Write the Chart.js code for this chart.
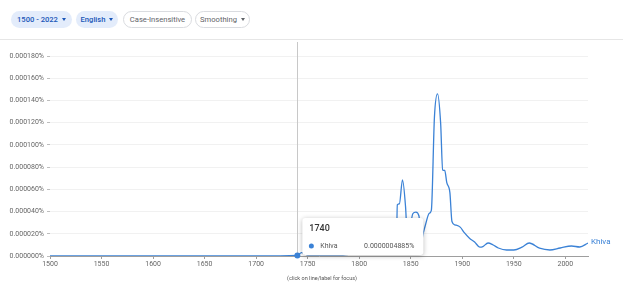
<!DOCTYPE html>
<html>
<head>
<meta charset="utf-8">
<script src="https://cdn.jsdelivr.net/npm/chart.js@4/dist/chart.umd.min.js"></script>
<style>
  html, body { margin: 0; padding: 0; background: #fff; }
  body { width: 623px; height: 299px; position: relative; overflow: hidden; font-family: Roboto, Arial, sans-serif; }
  #chart { position: absolute; left: 0; top: 0; }
  .chip { position: absolute; top: 11px; height: 17px; border-radius: 9px; font-size: 7.6px; line-height: 17px; box-sizing: border-box; text-align: center; white-space: nowrap; }
  .chip.on { background: #e3ecfb; color: #1a56b8; font-weight: 500; }
  .chip.off { background: #fff; border: 1px solid #dadce0; color: #5f6368; line-height: 15px; }
  .caret { display: inline-block; width: 0; height: 0; border-left: 2.5px solid transparent; border-right: 2.5px solid transparent; border-top: 3px solid currentColor; margin-left: 4px; vertical-align: 1px; }
  #sep { position: absolute; left: 0; right: 0; top: 39px; height: 1px; background: #e6e6e6; }
</style>
</head>
<body>
<div class="chip on" style="left:11px;width:61px;">1500 - 2022<span class="caret"></span></div>
<div class="chip on" style="left:76px;width:42px;">English<span class="caret"></span></div>
<div class="chip off" style="left:123px;width:69px;">Case-Insensitive</div>
<div class="chip off" style="left:195px;width:55px;">Smoothing<span class="caret"></span></div>
<div id="sep"></div>
<canvas id="chart" width="623" height="299"></canvas>
<script>
// Khiva frequency (percent of corpus)
const years = [1500, 1600, 1700, 1740, 1744, 1750, 1780, 1800, 1820, 1835, 1836,
  1837, 1839, 1842, 1845, 1847, 1852, 1855, 1858, 1860, 1862, 1864, 1868, 1870,
  1873, 1876, 1879, 1881, 1883, 1885, 1888, 1890, 1893, 1898, 1902, 1907, 1912,
  1917, 1920, 1925, 1930, 1935, 1943, 1950, 1958, 1965, 1975, 1985, 1995, 2006,
  2014, 2022];
const khiva = [0, 0, 0, 0.0000004885, 0.000003, 0.000001, 0.000001, 0.000002, 0.000002, 0.000002, 0.000003,
  0.000046, 0.000047, 0.0000685, 0.000044, 0.000012, 0.000038, 0.0000395, 0.000036, 0.000012, 0.00002,
  0.000027, 0.0000385, 0.000041, 0.000125, 0.000146, 0.00012, 0.0000775, 0.000077, 0.000066, 0.000057,
  0.000031, 0.000028, 0.000026, 0.000021, 0.000016, 0.0000126, 0.000008, 0.0000085, 0.0000117, 0.0000099,
  0.0000072, 0.0000054, 0.0000054, 0.000008, 0.0000117, 0.000007, 0.0000054, 0.0000072, 0.000009,
  0.0000081, 0.0000117];
const yTicks = [0, 0.00002, 0.00004, 0.00006, 0.00008, 0.0001, 0.00012, 0.00014, 0.00016, 0.00018];
const xTicks = [1500, 1550, 1600, 1650, 1700, 1750, 1800, 1850, 1900, 1950, 2000];
const focusYear = 1740;
const seriesName = "Khiva";
const lineColor = "#3b82d6";

const overlay = {
  id: "overlay",
  beforeDatasetsDraw(chart) {
    const { ctx, scales } = chart;
    const x = scales.x.getPixelForValue(focusYear);
    ctx.save();
    ctx.strokeStyle = "#c8c8c8";
    ctx.lineWidth = 1;
    ctx.beginPath();
    ctx.moveTo(Math.round(x) + 0.5, 42);
    ctx.lineTo(Math.round(x) + 0.5, chart.chartArea.bottom);
    ctx.stroke();
    ctx.restore();
  },
  afterDraw(chart) {
    const { ctx, scales, chartArea } = chart;
    const i = years.indexOf(focusYear);
    const px = scales.x.getPixelForValue(focusYear);
    const py = scales.y.getPixelForValue(khiva[i]);
    ctx.save();
    // focus dot
    ctx.fillStyle = lineColor;
    ctx.beginPath();
    ctx.arc(px, py, 3, 0, Math.PI * 2);
    ctx.fill();

    // series label at end of line
    const last = khiva.length - 1;
    ctx.font = "8px Roboto";
    ctx.textBaseline = "middle";
    ctx.textAlign = "left";
    ctx.fillStyle = lineColor;
    ctx.fillText(seriesName, scales.x.getPixelForValue(years[last]) + 3, scales.y.getPixelForValue(khiva[last]) - 1);

    // tooltip
    const bx = px + 5, by = 218, bw = 121, bh = 37;
    ctx.shadowColor = "rgba(0,0,0,0.28)";
    ctx.shadowBlur = 5;
    ctx.shadowOffsetY = 1;
    ctx.fillStyle = "#fff";
    ctx.beginPath();
    ctx.roundRect(bx, by, bw, bh, 3);
    ctx.fill();
    ctx.shadowColor = "transparent";
    ctx.fillStyle = "#333";
    ctx.font = "500 9px Roboto";
    ctx.fillText(String(focusYear), bx + 7, by + 11);
    ctx.fillStyle = lineColor;
    ctx.beginPath();
    ctx.arc(bx + 9, by + 28, 2.5, 0, Math.PI * 2);
    ctx.fill();
    ctx.fillStyle = "#555";
    ctx.font = "7px Roboto";
    ctx.fillText(seriesName, bx + 18, by + 28);
    ctx.textAlign = "right";
    ctx.fillText(khiva[i].toFixed(10) + "%", bx + 112, by + 28);

    // footnote
    ctx.textAlign = "center";
    ctx.fillStyle = "#555";
    ctx.font = "5.5px Roboto";
    ctx.fillText("(click on line/label for focus)", (chartArea.left + chartArea.right) / 2 + 3, 279);
    ctx.restore();
  }
};

new Chart(document.getElementById("chart"), {
  type: "line",
  data: {
    datasets: [{
      label: seriesName,
      data: years.map((y, i) => ({ x: y, y: khiva[i] })),
      borderColor: lineColor,
      borderWidth: 1.3,
      pointRadius: 0,
      cubicInterpolationMode: "monotone",
      fill: false,
    }],
  },
  options: {
    responsive: false,
    animation: false,
    events: [],
    layout: { padding: { left: 0, right: 35, top: 56, bottom: 0 } },
    plugins: { legend: { display: false }, tooltip: { enabled: false } },
    scales: {
      x: {
        type: "linear",
        min: 1500,
        max: 2022,
        afterBuildTicks: (axis) => { axis.ticks = xTicks.map((v) => ({ value: v })); },
        afterFit: (axis) => { axis.height = 43; },
        border: { display: true, color: "#9e9e9e" },
        grid: { drawOnChartArea: false, drawTicks: true, tickLength: 3, tickColor: "#9e9e9e" },
        ticks: { padding: 1, color: "#666", font: { family: "Roboto", size: 7 }, maxRotation: 0, callback: (v) => String(v) },
      },
      y: {
        min: 0,
        max: 0.00018,
        afterBuildTicks: (axis) => { axis.ticks = yTicks.map((v) => ({ value: v })); },
        afterFit: (axis) => { axis.width = 50; },
        border: { display: false },
        grid: { color: "#f1f1f1", tickColor: "#bdbdbd", tickLength: 3 },
        ticks: { padding: 3, color: "#666", font: { family: "Roboto", size: 7 }, callback: (v) => v.toFixed(6) + "%" },
      },
    },
  },
  plugins: [overlay],
});
</script>
</body>
</html>
